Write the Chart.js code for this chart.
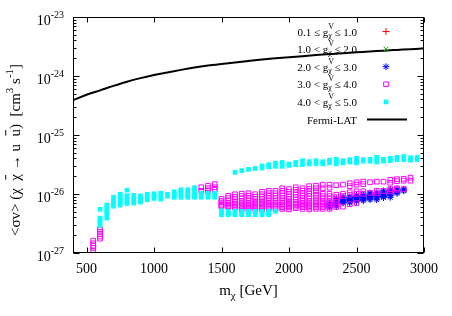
<!DOCTYPE html>
<html>
<head>
<meta charset="utf-8">
<script src="https://cdn.jsdelivr.net/npm/chart.js@4.4.1/dist/chart.umd.min.js"></script>
<style>
  html, body { margin: 0; padding: 0; background: #fff; }
  canvas { display: block; }
</style>
</head>
<body>
<canvas id="myChart" width="452" height="316"></canvas>
<script>
// scan points are given in units of 1e-27 cm^3 s^-1
const UNIT = 1e-27;

// 4.0 < g <= 5.0
const cyanMass = [600, 650, 700, 750, 800, 850, 900, 950, 1000, 1050, 1100, 1150, 1200, 1250, 1300, 1350, 1400, 1450,
  1500, 1550, 1600, 1650, 1700, 1750, 1800, 1850, 1900, 1950, 2000, 2050, 2100, 2150, 2200, 2250, 2300, 2350,
  2400, 2450, 2500, 2550, 2600, 2650, 2700, 2750, 2800, 2850, 2900, 2950];
const cyanVals = [
  [5.5, 3.9, 3.6, 3.3, 2.95], [6.5, 5.75, 5.1, 4.55, 3.9], [8.8, 7.85, 7.0, 6.2], [9.9, 8.8, 7.85, 7.3, 6.5],
  [11.6, 9.3, 8.5, 7.5, 6.9], [9.5, 8.5, 7.85, 7.0], [9.3, 8.5, 7.85, 7.3], [9.9, 9.0, 8.0], [10.1, 9.2, 8.4],
  [10.3, 9.2, 8.2], [9.9, 9.2], [10.9, 9.9, 8.8], [11.8, 10.7, 9.7, 8.8], [11.8, 10.7, 9.7, 8.8],
  [12.8, 11.6, 10.5, 9.5, 8.8], [10.3, 9.5, 8.8], [10.3, 9.5, 8.8], [10.3, 9.5, 8.8],
  [5.2, 4.8, 4.45], [5.1, 4.7, 4.45], [23.3, 5.1, 4.7, 4.45], [24.9, 5.1, 4.7, 4.45], [26.2, 5.1, 4.7, 4.45],
  [27.1, 5.1, 4.7, 4.45], [29.9, 27.6, 5.1, 4.7, 4.45], [31.4, 28.7, 5.1, 4.7, 4.45], [33.1, 29.4, 5.1],
  [34.3, 29.4], [32.3, 30.5], [34.3, 31.4], [36.7, 31.4], [35.3, 32.5], [36.7, 32.5], [35.3, 32.5],
  [37.4, 33.7], [38.9, 35.3, 32.5], [36.7, 33.7], [38.2, 34.8], [40.2, 36.7, 33.7], [38.2, 36.0],
  [38.9, 36.0], [41.8, 38.2, 34.8], [38.9, 36.0], [40.2, 36.7], [41.8, 38.2], [43.3, 38.2], [41.2, 37.4], [41.8, 38.2]
];

// 3.0 < g <= 4.0
const magMass = [550, 600, 1350, 1400, 1450, 1500, 1550, 1600, 1650, 1700, 1750, 1800, 1850, 1900, 1950, 2000,
  2050, 2100, 2150, 2200, 2250, 2300, 2350, 2400, 2450, 2500, 2550, 2600, 2650, 2700, 2750, 2800, 2850, 2900];
const magVals = [
  [1.62, 1.46, 1.33, 1.22, 1.09], [2.52, 2.3, 2.08, 1.9, 1.75], [13.0, 11.3], [13.8, 12.5, 11.3], [14.7, 13.0, 11.8],
  [8.3, 7.7, 7.2, 6.6, 6.35, 6.1], [9.3, 8.5, 7.7, 7.0, 6.6, 6.25, 6.0], [9.9, 9.0, 8.2, 7.4, 6.85, 6.5, 6.1, 5.9],
  [10.1, 9.2, 8.35, 7.5, 7.0, 6.6, 6.2, 5.9, 5.5], [10.3, 9.35, 8.5, 7.7, 7.0, 6.6, 6.2, 5.9, 5.5],
  [9.9, 9.0, 8.2, 7.4, 7.0, 6.6, 6.2, 5.9, 5.5], [10.9, 9.9, 9.0, 8.2, 7.4, 7.0, 6.6, 6.2, 5.9, 5.5],
  [11.3, 10.3, 9.35, 8.5, 7.7, 7.15, 6.7, 6.35, 6.0, 5.6], [11.3, 10.3, 9.35, 8.5, 7.7, 7.15, 6.7, 6.35, 6.0, 5.6],
  [12.5, 11.3, 10.3, 9.35, 8.5, 7.7, 7.15, 6.7, 6.35, 6.0, 5.6], [12.1, 10.9, 9.9, 9.0, 8.2, 7.4, 7.0, 6.6, 6.2, 5.9, 5.5],
  [13.0, 11.8, 10.7, 9.7, 8.8, 8.0, 7.3, 6.85, 6.5, 6.1, 5.75], [12.5, 11.3, 10.3, 9.35, 8.5, 7.7, 7.15, 6.7, 6.35, 6.0, 5.6],
  [13.6, 12.3, 11.1, 10.1, 9.2, 8.35, 7.5, 7.0, 6.6, 6.2, 5.9, 5.5], [13.8, 12.5, 11.1, 9.7, 8.65, 7.7, 7.15, 6.7, 6.35, 6.0, 5.6],
  [14.4, 12.5, 10.1, 9.2, 8.35, 7.5, 7.15, 6.7, 6.35, 6.0, 5.6], [14.4, 12.8, 10.1, 9.2, 8.35, 7.5, 7.15, 6.7, 6.35, 6.0, 5.6],
  [14.1, 9.7, 8.8, 8.0, 7.3, 6.6, 6.0], [14.4, 10.1, 9.2, 6.1], [15.2, 13.6, 10.7, 9.7, 6.7], [15.8, 14.4, 11.1, 10.1, 7.0],
  [16.2, 14.7, 11.1, 10.1], [15.8, 10.5], [16.2, 11.3, 10.3], [16.2, 11.3], [17.4, 15.5, 12.1, 11.1],
  [17.8, 16.5, 12.5, 11.8], [18.1, 16.8, 12.1], [18.9, 16.8]
];

// 2.0 < g <= 3.0
const blueMass = [2300, 2350, 2400, 2450, 2500, 2550, 2600, 2650, 2700, 2750, 2800, 2850];
const blueVals = [
  [7.0, 6.75, 6.5, 6.25, 6.0], [8.35, 7.9, 7.5, 7.15, 6.85, 6.5, 6.2], [8.8, 8.5, 8.2, 7.85, 7.5, 7.25, 7.0],
  [9.0, 8.65, 8.35, 8.0, 7.7, 7.4, 7.15], [9.5, 9.15, 8.8, 8.5, 8.2, 7.85, 7.5], [9.9, 9.55, 9.2, 8.85, 8.5, 8.1, 7.7],
  [10.3, 9.9, 9.5, 9.15, 8.8, 8.4, 8.0], [10.5, 10.1, 9.7, 9.35, 9.0, 8.5, 8.0], [11.3, 10.9, 10.5, 10.0, 9.5, 9.05, 8.65],
  [11.8, 11.35, 10.9, 10.4, 9.9, 9.35, 8.8], [12.1, 11.6, 11.1, 10.7, 10.3], [12.1, 11.7, 11.3]
];

// 0.1 <= g <= 1.0 and 1.0 < g <= 2.0: nothing visible in the plotted window
const redMass = [];
const redVals = [];
const greenMass = [];
const greenVals = [];

// Fermi-LAT limit
const fermiMass = [400, 500, 600, 700, 800, 900, 1000, 1100, 1200, 1300, 1400, 1500, 1600, 1700, 1800, 1900,
  2000, 2100, 2200, 2300, 2400, 2500, 2600, 2700, 2800, 2900, 3000];
const fermiVals = [3.9e-25, 4.8e-25, 5.7e-25, 6.8e-25, 8.0e-25, 9.2e-25, 1.04e-24, 1.15e-24, 1.27e-24, 1.39e-24,
  1.50e-24, 1.60e-24, 1.70e-24, 1.80e-24, 1.90e-24, 1.99e-24, 2.08e-24, 2.17e-24, 2.26e-24, 2.35e-24, 2.44e-24,
  2.52e-24, 2.60e-24, 2.69e-24, 2.77e-24, 2.85e-24, 2.94e-24];

const xTicks = [500, 1000, 1500, 2000, 2500, 3000];
const yExponents = [-27, -26, -25, -24, -23];

const legendLo = ['0.1', '1.0', '2.0', '3.0', '4.0'];
const legendOp = ['\u2264', '<', '<', '<', '<'];
const legendHi = ['1.0', '2.0', '3.0', '4.0', '5.0'];

const SERIF = '"Liberation Serif", "Times New Roman", serif';

function toPoints(masses, vals) {
  return masses.flatMap((m, i) => vals[i].map(v => ({ x: m, y: v * UNIT })));
}

const styles = [
  { color: '#ff0000', pointStyle: 'cross', radius: 3.5, fill: false },
  { color: '#00c000', pointStyle: 'crossRot', radius: 3.5, fill: false },
  { color: '#0000ff', pointStyle: 'star', radius: 3.4, fill: false },
  { color: '#ff00ff', pointStyle: 'rect', radius: 3.3, fill: false },
  { color: '#00ffff', pointStyle: 'rect', radius: 3.3, fill: true }
];

const scatterSets = [
  toPoints(redMass, redVals),
  toPoints(greenMass, greenVals),
  toPoints(blueMass, blueVals),
  toPoints(magMass, magVals),
  toPoints(cyanMass, cyanVals)
].map((pts, i) => ({
  type: 'scatter',
  data: pts,
  order: 6 - i,
  pointStyle: styles[i].pointStyle,
  pointRadius: styles[i].radius,
  pointBorderWidth: 1,
  pointBorderColor: styles[i].fill ? 'rgba(0,0,0,0)' : styles[i].color,
  pointBackgroundColor: styles[i].fill ? styles[i].color : 'rgba(0,0,0,0)',
  showLine: false
}));

// draw a row of text pieces (sub/superscripts, overbars)
function drawRuns(ctx, runs, x, y, align) {
  let total = 0;
  runs.forEach(r => {
    ctx.font = r.s + 'px ' + SERIF;
    r.w = ctx.measureText(r.t).width;
    if (!r.keep) total += r.w;
  });
  let cx = align === 'center' ? x - total / 2 : align === 'right' ? x - total : x;
  runs.forEach(r => {
    ctx.font = r.s + 'px ' + SERIF;
    ctx.fillText(r.t, cx, y + (r.dy || 0));
    if (r.bar) {
      ctx.beginPath();
      ctx.lineWidth = 1;
      ctx.moveTo(cx + 1, y - r.s * 0.95);
      ctx.lineTo(cx + r.w - 1, y - r.s * 0.95);
      ctx.stroke();
    }
    if (!r.keep) cx += r.w;
  });
}

const decor = {
  id: 'decor',
  afterDraw(chart) {
    const { ctx, chartArea: a } = chart;
    const x = chart.scales.x, y = chart.scales.y;
    const L = Math.round(a.left) + 0.5, R = Math.round(a.right) - 0.5;
    const T = Math.round(a.top) + 0.5, B = Math.round(a.bottom) - 0.5;
    ctx.save();
    ctx.strokeStyle = '#000';
    ctx.fillStyle = '#000';
    ctx.lineWidth = 1;
    ctx.strokeRect(L, T, R - L, B - T);

    // x ticks, mirrored on top
    ctx.beginPath();
    xTicks.forEach(v => {
      const px = Math.round(x.getPixelForValue(v)) + 0.5;
      ctx.moveTo(px, B); ctx.lineTo(px, B - 5);
      ctx.moveTo(px, T); ctx.lineTo(px, T + 5);
    });
    // y ticks, decades and minor 2..9
    yExponents.forEach((e, i) => {
      const py = Math.round(y.getPixelForValue(Math.pow(10, e))) + 0.5;
      ctx.moveTo(L, py); ctx.lineTo(L + 6, py);
      ctx.moveTo(R, py); ctx.lineTo(R - 6, py);
      if (i < yExponents.length - 1) {
        for (let k = 2; k <= 9; k++) {
          const my = Math.round(y.getPixelForValue(k * Math.pow(10, e))) + 0.5;
          ctx.moveTo(L, my); ctx.lineTo(L + 3, my);
          ctx.moveTo(R, my); ctx.lineTo(R - 3, my);
        }
      }
    });
    ctx.stroke();

    ctx.textBaseline = 'alphabetic';
    ctx.textAlign = 'left';
    xTicks.forEach(v => {
      drawRuns(ctx, [{ t: String(v), s: 14 }], x.getPixelForValue(v), 273, 'center');
    });
    yExponents.forEach(e => {
      const py = y.getPixelForValue(Math.pow(10, e));
      drawRuns(ctx, [{ t: '10', s: 14 }, { t: String(e), s: 10, dy: -7 }], 64, py + 8, 'right');
    });

    // x title
    drawRuns(ctx, [{ t: 'm', s: 15 }, { t: '\u03c7', s: 11, dy: 4 }, { t: ' [GeV]', s: 15 }],
      (a.left + a.right) / 2, 295, 'center');

    // y title, rotated
    ctx.save();
    ctx.translate(20, (a.top + a.bottom) / 2 + 15);
    ctx.rotate(-Math.PI / 2);
    drawRuns(ctx, [
      { t: '<\u03c3v> (\u03c7  ', s: 15 },
      { t: '\u03c7', s: 15, bar: true },
      { t: ' \u2192 u  ', s: 15 },
      { t: 'u', s: 15, bar: true },
      { t: ')  [cm', s: 15 },
      { t: '3', s: 11, dy: -7 },
      { t: ' s', s: 15 },
      { t: '-1', s: 11, dy: -7 },
      { t: ']', s: 15 }
    ], 0, 0, 'center');
    ctx.restore();

    // key
    const rowY = i => 31.5 + 17.6 * i;
    legendLo.forEach((lo, i) => {
      const cy = rowY(i);
      ctx.fillStyle = '#000';
      ctx.strokeStyle = '#000';
      drawRuns(ctx, [
        { t: lo + ' ' + legendOp[i] + ' g', s: 11 },
        { t: 'V', s: 8, dy: -7, keep: true },
        { t: '\u03c7', s: 8, dy: 2 },
        { t: ' \u2264 ' + legendHi[i], s: 11 }
      ], 357, cy + 4, 'right');
      const st = styles[i];
      ctx.strokeStyle = st.color;
      ctx.fillStyle = st.fill ? st.color : 'rgba(0,0,0,0)';
      ctx.lineWidth = 1;
      Chart.helpers.drawPoint(ctx, {
        pointStyle: st.pointStyle, radius: st.radius, rotation: 0, borderWidth: st.fill ? 0 : 1
      }, 386, cy);
    });
    ctx.fillStyle = '#000';
    ctx.strokeStyle = '#000';
    const fy = rowY(5);
    drawRuns(ctx, [{ t: 'Fermi-LAT', s: 11 }], 357, fy + 4, 'right');
    ctx.beginPath();
    ctx.lineWidth = 2;
    ctx.moveTo(367, fy); ctx.lineTo(407, fy);
    ctx.stroke();
    ctx.restore();
  }
};

new Chart(document.getElementById('myChart'), {
  type: 'scatter',
  data: {
    datasets: scatterSets.concat([{
      type: 'line',
      data: fermiMass.map((m, i) => ({ x: m, y: fermiVals[i] })),
      order: 0,
      borderColor: '#000',
      borderWidth: 2,
      pointRadius: 0,
      fill: false,
      cubicInterpolationMode: 'monotone'
    }])
  },
  options: {
    responsive: false,
    animation: false,
    layout: { padding: { left: 73, right: 28, top: 17, bottom: 63 } },
    plugins: { legend: { display: false }, tooltip: { enabled: false } },
    scales: {
      x: {
        type: 'linear', min: 400, max: 3000,
        ticks: { display: false }, grid: { display: false }, border: { display: false },
        afterFit(scale) { scale.height = 0; }
      },
      y: {
        type: 'logarithmic', min: 1e-27, max: 1e-23,
        ticks: { display: false }, grid: { display: false }, border: { display: false },
        afterFit(scale) { scale.width = 0; }
      }
    }
  },
  plugins: [decor]
});
</script>
</body>
</html>
